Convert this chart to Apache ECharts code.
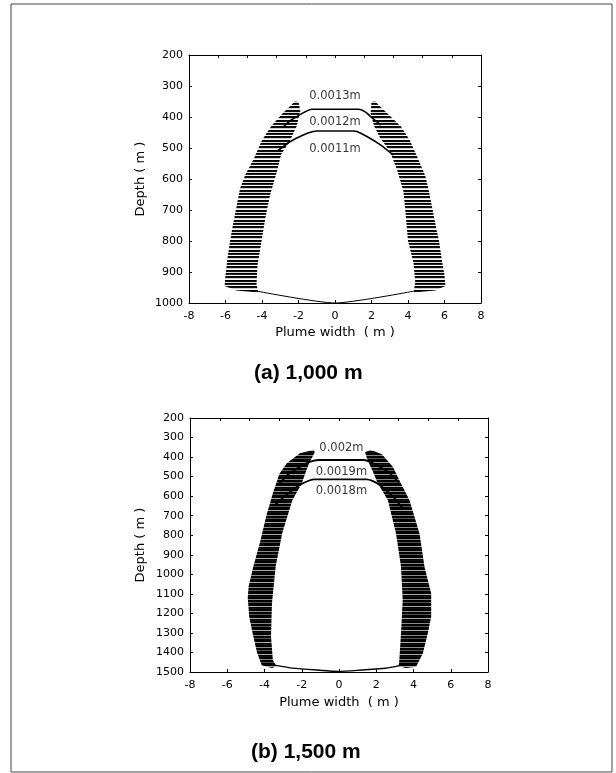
<!DOCTYPE html>
<html>
<head>
<meta charset="utf-8">
<script src="https://cdn.jsdelivr.net/npm/echarts@6/dist/echarts.min.js"></script>
<style>
  html, body { margin: 0; padding: 0; background: #fff; }
  #chart { width: 616px; height: 773px; }
</style>
</head>
<body>
<div id="chart"></div>
<script>
// axis ranges
const widthMin = -8, widthMax = 8, widthStep = 2
const topStep = 1.6
const depthMin = 200, depthMaxA = 1000, depthMaxB = 1500, depthStep = 100

// (a) 1,000 m  -- [plume width (m), depth (m)]
const aLeftOuter = [[-2.2, 350], [-2.9, 390], [-3.5, 430], [-4.0, 475], [-4.45, 535], [-4.9, 585], [-5.2, 630], [-5.4, 690], [-5.6, 750], [-5.75, 800], [-5.9, 860], [-6.0, 910], [-6.05, 945], [-5.4, 960]]
const aLeftInner = [[-4.2, 966], [-4.3, 940], [-4.25, 880], [-4.05, 810], [-3.8, 720], [-3.55, 650], [-3.2, 580], [-2.95, 520], [-2.5, 480], [-2.1, 430], [-1.9, 380], [-2.0, 352]]
const aRightOuter = [[2.2, 350], [2.9, 390], [3.6, 430], [4.1, 475], [4.55, 535], [4.95, 590], [5.15, 640], [5.35, 700], [5.55, 760], [5.7, 800], [5.85, 860], [6.0, 910], [6.05, 945], [5.5, 960]]
const aRightInner = [[4.3, 966], [4.4, 935], [4.3, 870], [4.0, 800], [3.85, 700], [3.75, 640], [3.4, 570], [3.0, 510], [2.5, 470], [2.15, 430], [1.95, 390], [2.0, 352]]
const aArch13 = [[-2.8, 430], [-2.45, 412], [-2.1, 399], [-1.7, 385], [-1.27, 375], [1.29, 375], [1.7, 385], [1.96, 399], [2.5, 426]]
const aArch12 = [[-3.2, 512], [-2.47, 480], [-1.74, 458], [-1.2, 447], [-1.0, 445], [1.01, 445], [1.2, 447], [1.75, 463], [2.49, 490], [3.2, 523]]
const aBottom = [[-4.25, 962], [0, 1000], [4.3, 962]]
const aLabels = ['0.0013m', '0.0012m', '0.0011m']
const aLabelPos = [[0, 332], [0, 415], [0, 504]]

// (b) 1,500 m
const bLeftOuter = [[-1.35, 362], [-2.1, 381], [-2.8, 432], [-3.2, 485], [-3.55, 585], [-3.9, 700], [-4.25, 840], [-4.6, 960], [-4.85, 1060], [-4.9, 1120], [-4.82, 1217], [-4.64, 1302], [-4.4, 1400], [-4.15, 1465], [-3.6, 1480]]
const bLeftInner = [[-3.35, 1470], [-3.55, 1440], [-3.65, 1320], [-3.6, 1150], [-3.4, 960], [-3.05, 790], [-2.5, 620], [-2.0, 535], [-1.8, 480], [-1.6, 430], [-1.3, 375]]
const bRightOuter = [[1.7, 362], [2.3, 385], [2.89, 449], [3.3, 530], [3.78, 620], [4.32, 790], [4.59, 961], [4.95, 1098], [4.95, 1217], [4.77, 1302], [4.5, 1405], [4.14, 1473], [3.6, 1480]]
const bRightInner = [[3.2, 1470], [3.24, 1439], [3.33, 1302], [3.42, 1132], [3.33, 961], [3.06, 790], [2.62, 620], [2.08, 534], [1.8, 470], [1.55, 420], [1.4, 375]]
const bArch19 = [[-3.19, 534], [-2.65, 483], [-1.94, 441], [-1.4, 420], [-1.04, 415], [1.29, 415], [1.6, 422], [2.01, 441], [2.73, 483], [3.2, 530]]
const bArch18 = [[-3.5, 650], [-2.83, 594], [-2.11, 543], [-1.6, 520], [-1.31, 514], [1.47, 514], [1.8, 522], [2.19, 543], [2.9, 603], [3.4, 660]]
const bBottom = [[-3.4, 1466], [-2.5, 1480], [-1.2, 1490], [0, 1497], [1.2, 1490], [2.5, 1481], [3.3, 1466]]
const bLabels = ['0.002m', '0.0019m', '0.0018m']
const bLabelPos = [[0.13, 355], [0.13, 475], [0.13, 572]]

const tickFont = 'DejaVu Sans'

// horizontal hatch for the plume bands
function hatch(rows) {
  const c = document.createElement('canvas')
  c.width = 4
  c.height = rows.length
  const ctx = c.getContext('2d')
  rows.forEach((col, i) => {
    ctx.fillStyle = col
    ctx.fillRect(0, i, 4, 1)
  })
  return { image: c, repeat: 'repeat' }
}
const hatchA = hatch(['#000', '#111', '#ddd', '#000', '#222', '#fff', '#000', '#111', '#ccc', '#fff'])
const hatchB = hatch(['#000', '#000', '#555', '#000', '#000', '#000', '#aaa', '#000', '#111', '#000', '#000', '#888'])

function band(g, outer, inner, fill) {
  const pts = outer.concat(inner)
  return {
    type: 'custom',
    xAxisIndex: g * 2,
    yAxisIndex: g * 2,
    silent: true,
    z: 2,
    data: pts,
    renderItem: function (params, api) {
      if (params.dataIndex !== 0) return null
      return {
        type: 'polygon',
        shape: { points: pts.map(p => api.coord(p)) },
        style: { fill: fill, stroke: null }
      }
    }
  }
}

function curve(g, data, w) {
  return {
    type: 'line',
    xAxisIndex: g * 2,
    yAxisIndex: g * 2,
    data: data,
    showSymbol: false,
    smooth: 0.2,
    silent: true,
    z: 3,
    lineStyle: { color: '#000', width: w }
  }
}

function labels(g, names, pos) {
  return {
    type: 'scatter',
    xAxisIndex: g * 2,
    yAxisIndex: g * 2,
    symbolSize: 1,
    silent: true,
    z: 4,
    itemStyle: { color: 'rgba(0,0,0,0)' },
    data: names.map((n, i) => ({ name: n, value: pos[i] })),
    label: {
      show: true,
      position: 'inside',
      formatter: '{b}',
      fontFamily: tickFont,
      fontSize: 11.5,
      color: '#000'
    }
  }
}

function xAxes(g) {
  const base = {
    gridIndex: g,
    type: 'value',
    min: widthMin,
    max: widthMax,
    splitLine: { show: false },
    axisLine: { onZero: false, lineStyle: { color: '#000', width: 1 } },
    axisTick: { inside: true, length: 3, lineStyle: { color: '#000' } }
  }
  return [
    Object.assign({}, base, {
      position: 'bottom',
      interval: widthStep,
      name: 'Plume width  ( m )',
      nameLocation: 'middle',
      nameGap: g === 0 ? 23 : 24,
      nameTextStyle: { fontFamily: tickFont, fontSize: 13, color: '#000' },
      axisLabel: { fontFamily: tickFont, fontSize: 11, color: '#000', margin: 8 }
    }),
    Object.assign({}, base, {
      position: 'top',
      interval: topStep,
      axisLabel: { show: false }
    })
  ]
}

function yAxes(g, maxDepth) {
  const base = {
    gridIndex: g,
    type: 'value',
    inverse: true,
    min: depthMin,
    max: maxDepth,
    interval: depthStep,
    splitLine: { show: false },
    axisLine: { onZero: false, lineStyle: { color: '#000', width: 1 } },
    axisTick: { inside: true, length: 3, lineStyle: { color: '#000' } }
  }
  return [
    Object.assign({}, base, {
      position: 'left',
      name: 'Depth ( m )',
      nameLocation: 'middle',
      nameRotate: 90,
      nameGap: g === 0 ? 42 : 43,
      nameTextStyle: { fontFamily: tickFont, fontSize: 13, color: '#000' },
      axisLabel: { fontFamily: tickFont, fontSize: 11, color: '#000', margin: 6, formatter: v => String(v) }
    }),
    Object.assign({}, base, {
      position: 'right',
      axisLabel: { show: false }
    })
  ]
}

const chart = echarts.init(document.getElementById('chart'), null, { renderer: 'canvas' })

const titleStyle = { fontFamily: '"Liberation Sans", sans-serif', fontSize: 21, fontWeight: 'bold', fill: '#000', verticalAlign: 'middle' }

chart.setOption({
  animation: false,
  backgroundColor: '#fff',
  grid: [
    { left: 189, top: 55, width: 292, height: 248 },
    { left: 190, top: 418, width: 298, height: 254 }
  ],
  xAxis: [...xAxes(0), ...xAxes(1)],
  yAxis: [...yAxes(0, depthMaxA), ...yAxes(1, depthMaxB)],
  graphic: [
    { type: 'rect', shape: { x: 11, y: 4, width: 601, height: 768 }, style: { fill: 'none', stroke: '#444', lineWidth: 1 }, silent: true },
    { type: 'text', x: 254, y: 373, style: Object.assign({ text: '(a) 1,000 m' }, titleStyle) },
    { type: 'text', x: 251, y: 752, style: Object.assign({ text: '(b) 1,500 m' }, titleStyle) }
  ],
  series: [
    band(0, aLeftOuter, aLeftInner, hatchA),
    band(0, aRightOuter, aRightInner, hatchA),
    curve(0, aArch13, 1.6),
    curve(0, aArch12, 1.6),
    curve(0, aBottom, 1),
    labels(0, aLabels, aLabelPos),
    band(1, bLeftOuter, bLeftInner, hatchB),
    band(1, bRightOuter, bRightInner, hatchB),
    curve(1, bArch19, 1.8),
    curve(1, bArch18, 1.8),
    curve(1, bBottom, 1.4),
    labels(1, bLabels, bLabelPos)
  ]
})
</script>
</body>
</html>
